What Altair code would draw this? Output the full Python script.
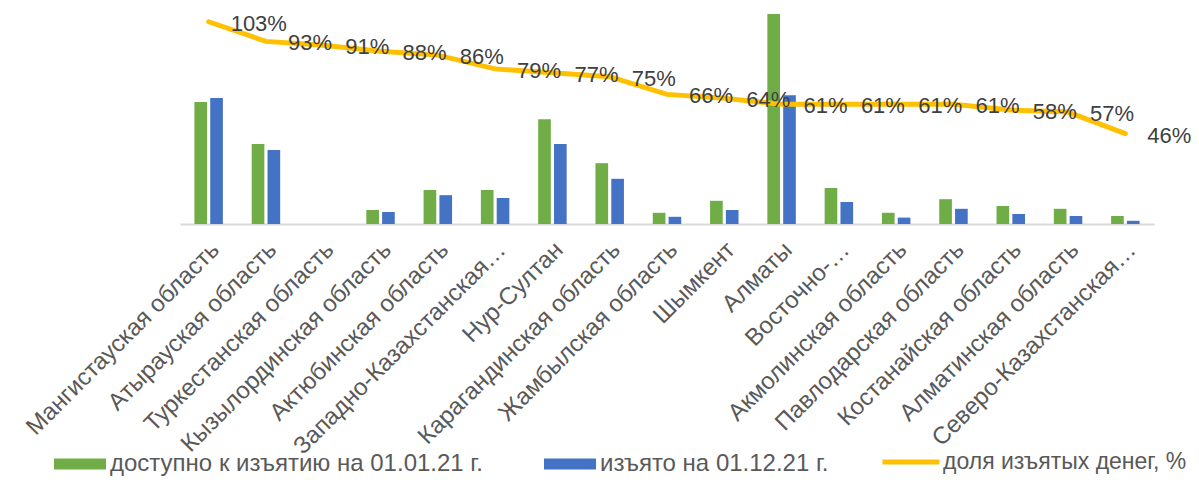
import altair as alt
import pandas as pd

categories = [
    "Мангистауская область", "Атырауская область", "Туркестанская область",
    "Кызылординская область", "Актюбинская область", "Западно-Казахстанская область",
    "Нур-Султан", "Карагандинская область", "Жамбылская область", "Шымкент",
    "Алматы", "Восточно-Казахстанская область", "Акмолинская область",
    "Павлодарская область", "Костанайская область", "Алматинская область",
    "Северо-Казахстанская область",
]
available = [305, 200, 0, 35, 85, 85, 262, 152, 28, 58, 525, 90, 28, 62, 45, 38, 20]
withdrawn = [315, 185, 0, 30, 72, 65, 200, 113, 18, 35, 322, 55, 16, 38, 25, 20, 8]
share = [1.03, 0.93, 0.91, 0.88, 0.86, 0.79, 0.77, 0.75, 0.66, 0.64, 0.61, 0.61,
         0.61, 0.61, 0.58, 0.57, 0.46]

s_avail = "доступно к изъятию на 01.01.21 г."
s_with = "изъято на 01.12.21 г."
s_share = "доля изъятых денег, %"

short_labels = {
    "Западно-Казахстанская область": "Западно-Казахстанская…",
    "Восточно-Казахстанская область": "Восточно-…",
    "Северо-Казахстанская область": "Северо-Казахстанская…",
}

bars_df = pd.DataFrame(
    [{"cat": c, "series": s_avail, "value": v} for c, v in zip(categories, available)]
    + [{"cat": c, "series": s_with, "value": v} for c, v in zip(categories, withdrawn)]
)
line_df = pd.DataFrame({"cat": categories, "pct": share, "lname": s_share})

FONT = "Liberation Sans"

label_expr = ""
for k, v in short_labels.items():
    label_expr += f"datum.value == '{k}' ? '{v}' : "
label_expr += "datum.value"

x_axis = alt.Axis(
    title=None, labelAngle=-45, labelAlign="right", labelBaseline="middle",
    labelFontSize=24, labelColor="#595959", labelFont=FONT, labelPadding=22,
    labelOffset=7,
    labelLimit=0, labelOverlap=False, ticks=False, domainColor="#D9D9D9",
    domainWidth=2, labelExpr=label_expr,
)
x_enc = alt.X("cat:N", sort=categories, axis=x_axis,
              scale=alt.Scale(paddingInner=0.503, paddingOuter=0.2515))

bars = alt.Chart(bars_df).mark_bar().encode(
    x=x_enc,
    xOffset=alt.XOffset("series:N", sort=[s_avail, s_with],
                        scale=alt.Scale(paddingInner=0.2)),
    y=alt.Y("value:Q", axis=None, scale=alt.Scale(domain=[0, 540])),
    color=alt.Color(
        "series:N",
        scale=alt.Scale(domain=[s_avail, s_with], range=["#70AD47", "#4472C4"]),
        legend=alt.Legend(
            orient="none", legendX=-126, legendY=430, direction="horizontal",
            title=None, labelFontSize=24, labelColor="#595959", labelFont=FONT,
            labelLimit=0,
            symbolType="M-1,-0.21H1V0.21H-1Z", symbolSize=2704,
            symbolStrokeWidth=0, symbolOpacity=1, columnPadding=61, labelOffset=4,
        ),
    ),
)

line = alt.Chart(line_df).mark_line(strokeWidth=5, strokeCap="round").encode(
    x=x_enc,
    y=alt.Y("pct:Q", axis=None, scale=alt.Scale(domain=[0, 1.1])),
    stroke=alt.Stroke(
        "lname:N",
        scale=alt.Scale(domain=[s_share], range=["#FFC000"]),
        legend=alt.Legend(
            orient="none", legendX=700, legendY=423, direction="horizontal",
            title=None, labelFontSize=23, labelColor="#595959", labelFont=FONT,
            labelLimit=0,
            symbolType="stroke", symbolSize=3249, symbolStrokeWidth=5,
            labelOffset=1,
        ),
    ),
)

labels = alt.Chart(line_df).mark_text(
    align="left", baseline="middle", dx=22, dy=2, fontSize=22,
    font=FONT, color="#404040",
).encode(
    x=x_enc,
    y=alt.Y("pct:Q", axis=None, scale=alt.Scale(domain=[0, 1.1])),
    text=alt.Text("pct:Q", format=".0%"),
)

chart = alt.layer(bars, line, labels).resolve_scale(y="independent").properties(
    width=974, height=216,
    padding={"left": 172, "top": 0, "right": 37, "bottom": 260},
    autosize=alt.AutoSizeParams(type="none"),
).configure_view(stroke=None)

chart.save("out.html", embed_options={"renderer": "svg", "actions": False})
